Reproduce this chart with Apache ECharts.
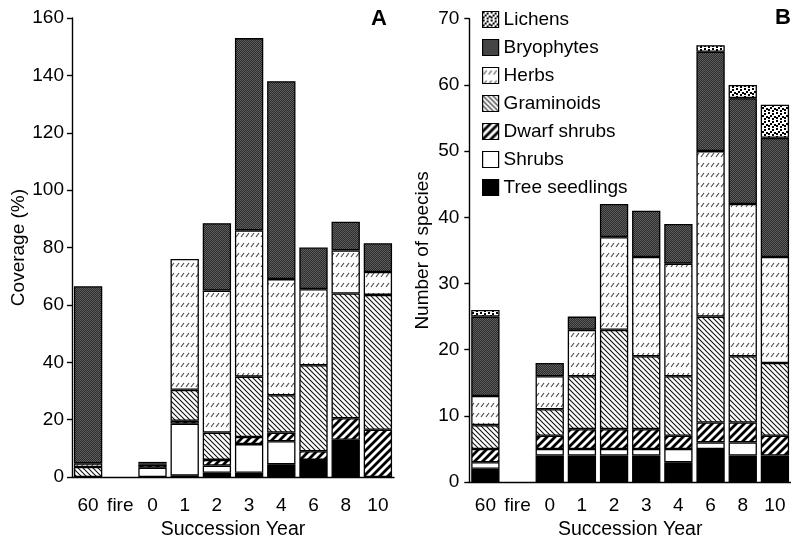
<!DOCTYPE html>
<html>
<head>
<meta charset="utf-8">
<script src="https://cdn.jsdelivr.net/npm/echarts@6/dist/echarts.min.js"></script>
<style>html,body{margin:0;padding:0;background:#fff}#c{width:791px;height:545px}</style>
</head>
<body>
<div id="c"></div>
<script>
// ---- data ----
const categories = ['60', 'fire', '0', '1', '2', '3', '4', '6', '8', '10'];
const groups = ['Tree seedlings', 'Shrubs', 'Dwarf shrubs', 'Graminoids', 'Herbs', 'Bryophytes', 'Lichens'];
const legendOrder = ['Lichens', 'Bryophytes', 'Herbs', 'Graminoids', 'Dwarf shrubs', 'Shrubs', 'Tree seedlings'];

// Panel A: coverage (%)
const covTree      = [0,    0, 0,   0.5,  1.5,  1.5, 4.5,  6,    13,   0];
const covShrubs    = [0,    0, 3.3, 18.1, 2.5,  10,  8,    0,    0,    0];
const covDwarf     = [0,    0, 1,   1,    2,    2.5, 3,    3,    7.5,  16.5];
const covGram      = [3.5,  0, 0,   10.8, 9.5,  21,  13,   30,   43.5, 47];
const covHerbs     = [1.3,  0, 0.5, 45.6, 49.5, 51,  40.5, 26.5, 15,   8];
const covBryo      = [61.7, 0, 0.5, 0,    23.5, 67,  69,   14.5, 10,   10];
const covLichens   = [0,    0, 0,   0,    0,    0,   0,    0,    0,    0];

// Panel B: number of species
const spTree    = [2,   0, 4, 4, 4,  4,  3,  5,  4,  4];
const spShrubs  = [1,   0, 1, 1, 1,  1,  2,  1,  2,  0];
const spDwarf   = [2,   0, 2, 3, 3,  3,  2,  3,  3,  3];
const spGram    = [3.6, 0, 4, 8, 15, 11, 9,  16, 10, 11];
const spHerbs   = [4.4, 0, 5, 7, 14, 15, 17, 25, 23, 16];
const spBryo    = [12,  0, 2, 2, 5,  7,  6,  15, 16, 18];
const spLichens = [1,   0, 0, 0, 0,  0,  0,  1,  2,  5];

const coverage = [covTree, covShrubs, covDwarf, covGram, covHerbs, covBryo, covLichens];
const species  = [spTree, spShrubs, spDwarf, spGram, spHerbs, spBryo, spLichens];

// ---- patterns ----
function tile(w, h, draw) {
  const c = document.createElement('canvas');
  c.width = w; c.height = h;
  const g = c.getContext('2d');
  draw(g, w, h);
  return { image: c, repeat: 'repeat' };
}
function diag(g, s, up, lw, col) {
  g.strokeStyle = col; g.lineWidth = lw; g.lineCap = 'square';
  for (let o = -s; o <= s; o += s) {
    g.beginPath();
    if (up) { g.moveTo(o - 1, s + 1); g.lineTo(o + s + 1, -1); }
    else { g.moveTo(o - 1, -1); g.lineTo(o + s + 1, s + 1); }
    g.stroke();
  }
}
const patterns = {
  'Tree seedlings': '#000',
  'Shrubs': '#fff',
  'Dwarf shrubs': tile(8, 8, (g, w, h) => { g.fillStyle = '#fff'; g.fillRect(0, 0, w, h); diag(g, 8, true, 2.8, '#000'); }),
  'Graminoids': tile(5, 5, (g, w, h) => { g.fillStyle = '#fff'; g.fillRect(0, 0, w, h); diag(g, 5, false, 1.1, '#111'); }),
  'Herbs': tile(5, 10, (g, w, h) => {
    g.fillStyle = '#fff'; g.fillRect(0, 0, w, h);
    g.strokeStyle = '#444'; g.lineWidth = 1.1;
    g.beginPath(); g.moveTo(1, 7); g.lineTo(4, 3); g.stroke();
  }),
  'Bryophytes': tile(2, 2, (g) => {
    g.fillStyle = '#2c2c2c'; g.fillRect(0, 0, 2, 2);
    g.fillStyle = '#5e5e5e'; g.fillRect(0, 0, 1, 1); g.fillRect(1, 1, 1, 1);
  }),
  'Lichens': tile(8, 8, (g) => {
    g.fillStyle = '#fff'; g.fillRect(0, 0, 8, 8);
    g.fillStyle = '#000';
    [[0, 0], [4, 1], [2, 3], [6, 4], [0, 5], [4, 6]].forEach(p => g.fillRect(p[0], p[1], 2, 2));
  })
};

const FONT = '"Liberation Sans", Arial, sans-serif';
const toData = arr => arr.map(v => (v > 0 ? v : null));

const series = [];
groups.forEach((name, i) => {
  series.push({
    name, type: 'bar', stack: 'A', xAxisIndex: 0, yAxisIndex: 0,
    barCategoryGap: '12%', data: toData(coverage[i]),
    itemStyle: { color: patterns[name], borderColor: '#000', borderWidth: 1.3 },
    emphasis: { disabled: true }, animation: false
  });
  series.push({
    name, type: 'bar', stack: 'B', xAxisIndex: 1, yAxisIndex: 1,
    barCategoryGap: '12%', data: toData(species[i]),
    itemStyle: { color: patterns[name], borderColor: '#000', borderWidth: 1.3 },
    emphasis: { disabled: true }, animation: false
  });
});

function xAxis(gridIndex, margin, nameGap) {
  return {
    type: 'category', gridIndex, data: categories,
    axisLine: { lineStyle: { color: '#000', width: 1.4 } },
    axisTick: { length: 6, lineStyle: { color: '#000', width: 1.4 } },
    axisLabel: { color: '#000', fontSize: 19, fontFamily: FONT, margin, interval: 0 },
    name: 'Succession Year', nameLocation: 'middle', nameGap,
    nameTextStyle: { color: '#000', fontSize: 19.5, fontFamily: FONT }
  };
}
function yAxis(gridIndex, max, interval, name, nameGap, margin) {
  return {
    type: 'value', gridIndex, min: 0, max, interval,
    axisLine: { show: true, lineStyle: { color: '#000', width: 1.4 } },
    axisTick: { show: true, length: 5, lineStyle: { color: '#000', width: 1.4 } },
    axisLabel: { color: '#000', fontSize: 19, fontFamily: FONT, margin },
    splitLine: { show: false },
    name, nameLocation: 'middle', nameGap, nameRotate: 90,
    nameTextStyle: { color: '#000', fontSize: 19, fontFamily: FONT }
  };
}

const chart = echarts.init(document.getElementById('c'), null, { renderer: 'canvas' });
chart.setOption({
  backgroundColor: '#fff',
  animation: false,
  grid: [
    { left: 72, top: 18, width: 322, height: 462.5 },
    { left: 469.3, top: 18.7, width: 328, height: 468 }
  ],
  xAxis: [xAxis(0, 19, 42), xAxis(1, 14, 37)],
  yAxis: [yAxis(0, 160, 20, 'Coverage (%)', 44, 8), yAxis(1, 70, 10, 'Number of species', 37, 10)],
  legend: {
    data: legendOrder, orient: 'vertical', left: 477, top: 5,
    itemWidth: 16, itemHeight: 16, itemGap: 9, icon: 'rect', selectedMode: false,
    itemStyle: { borderColor: '#000', borderWidth: 1.2 },
    textStyle: { color: '#000', fontSize: 19, fontFamily: FONT }
  },
  graphic: [
    { type: 'text', left: 371, top: 8, style: { text: 'A', font: 'bold 22px "Liberation Sans", Arial', fill: '#000' } },
    { type: 'text', left: 775, top: 7, style: { text: 'B', font: 'bold 22px "Liberation Sans", Arial', fill: '#000' } }
  ],
  series
});
</script>
</body>
</html>
